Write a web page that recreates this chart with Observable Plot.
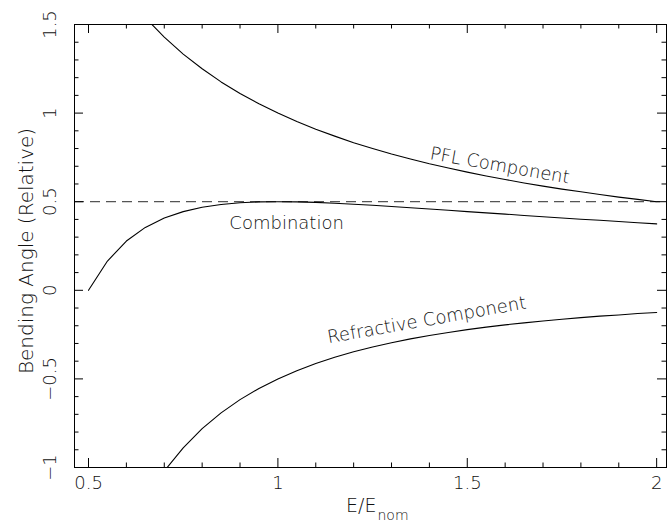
<!DOCTYPE html>
<html>
<head>
<meta charset="utf-8">
<script src="https://cdn.jsdelivr.net/npm/d3@7"></script>
<script src="https://cdn.jsdelivr.net/npm/@observablehq/plot@0.6"></script>
<style>
  html, body { margin: 0; padding: 0; background: #fff; }
  #chart svg { display: block; }
</style>
</head>
<body>
<div id="chart"></div>
<script>
// ---- data ----
const energy = [0.50, 0.55, 0.60, 0.65, 0.70, 0.75, 0.80, 0.85, 0.90, 0.95,
                1.00, 1.05, 1.10, 1.15, 1.20, 1.25, 1.30, 1.35, 1.40, 1.45,
                1.50, 1.55, 1.60, 1.65, 1.70, 1.75, 1.80, 1.85, 1.90, 1.95, 2.00];
const combination = [0.000, 0.165, 0.278, 0.355, 0.408, 0.444, 0.469, 0.484, 0.494, 0.499,
                     0.500, 0.499, 0.496, 0.491, 0.486, 0.480, 0.473, 0.466, 0.459, 0.452,
                     0.444, 0.437, 0.430, 0.422, 0.415, 0.408, 0.401, 0.395, 0.388, 0.381, 0.375];
const pflComponent = [null, null, null, 1.538, 1.429, 1.333, 1.250, 1.176, 1.111, 1.053,
                      1.000, 0.952, 0.909, 0.870, 0.833, 0.800, 0.769, 0.741, 0.714, 0.690,
                      0.667, 0.645, 0.625, 0.606, 0.588, 0.571, 0.556, 0.541, 0.526, 0.513, 0.500];
const refractiveComponent = [null, null, null, null, -1.020, -0.889, -0.781, -0.692, -0.617, -0.554,
                      -0.500, -0.454, -0.413, -0.378, -0.347, -0.320, -0.296, -0.274, -0.255, -0.238,
                      -0.222, -0.208, -0.195, -0.184, -0.173, -0.163, -0.154, -0.146, -0.139, -0.131, -0.125];
const referenceLevel = [0.5];

const xMajorTicks = [0.5, 1, 1.5, 2];
const xMinorTicks = [0.6, 0.7, 0.8, 0.9, 1.1, 1.2, 1.3, 1.4, 1.6, 1.7, 1.8, 1.9];
const yMajorTicks = [-1, -0.5, 0, 0.5, 1, 1.5];
const yMinorTicks = [-0.9, -0.8, -0.7, -0.6, -0.4, -0.3, -0.2, -0.1, 0.1, 0.2, 0.3, 0.4,
                     0.6, 0.7, 0.8, 0.9, 1.1, 1.2, 1.3, 1.4];
const xTickLabels = ["0.5", "1", "1.5", "2"];
const yTickLabels = ["\u22121", "\u22120.5", "0", "0.5", "1", "1.5"];

const annotations = [
  {text: "PFL Component", e: 1.586, v: 0.704, angle: 10},
  {text: "Combination", e: 1.023, v: 0.377, angle: 0},
  {text: "Refractive Component", e: 1.393, v: -0.168, angle: -10}
];
const xTitle = "E/E";
const xTitleSub = "nom";
const yTitle = "Bending Angle (Relative)";

// ---- build table ----
const series = [
  {name: "Combination", values: combination},
  {name: "PFL", values: pflComponent},
  {name: "Refractive", values: refractiveComponent}
];
const rows = [];
for (const s of series) {
  energy.forEach((e, i) => {
    if (s.values[i] !== null) rows.push({series: s.name, e, v: s.values[i]});
  });
}

// ---- layout ----
const W = 667, H = 524;
const mL = 74, mR = 1, mT = 24, mB = 57;
const innerW = W - mL - mR, innerH = H - mT - mB;
const majorLen = 9, minorLen = 4.5;
const font = "DejaVu Sans";
const weight = 300;
const ink = "#111";

const chart = Plot.plot({
  width: W,
  height: H,
  marginLeft: mL,
  marginRight: mR,
  marginTop: mT,
  marginBottom: mB,
  x: {domain: [0.463, 2.026], axis: null},
  y: {domain: [-1, 1.5], axis: null},
  style: {fontFamily: font, fontSize: "18px", background: "white", color: "black"},
  marks: [
    Plot.ruleY(referenceLevel, {stroke: "#555", strokeWidth: 1.3, strokeDasharray: "10,6"}),
    Plot.line(rows, {x: "e", y: "v", z: "series", stroke: "black", strokeWidth: 1.1, clip: true}),
    Plot.frame({stroke: "black", strokeWidth: 1}),
    // ticks (pointing inward, on all four sides)
    Plot.tickX(xMajorTicks, {x: d => d, insetTop: innerH - majorLen, stroke: "black"}),
    Plot.tickX(xMajorTicks, {x: d => d, insetBottom: innerH - majorLen, stroke: "black"}),
    Plot.tickX(xMinorTicks, {x: d => d, insetTop: innerH - minorLen, stroke: "black"}),
    Plot.tickX(xMinorTicks, {x: d => d, insetBottom: innerH - minorLen, stroke: "black"}),
    Plot.tickY(yMajorTicks, {y: d => d, insetRight: innerW - majorLen, stroke: "black"}),
    Plot.tickY(yMajorTicks, {y: d => d, insetLeft: innerW - majorLen, stroke: "black"}),
    Plot.tickY(yMinorTicks, {y: d => d, insetRight: innerW - minorLen, stroke: "black"}),
    Plot.tickY(yMinorTicks, {y: d => d, insetLeft: innerW - minorLen, stroke: "black"}),
    // tick labels
    Plot.text(xMajorTicks, {x: d => d, text: (d, i) => xTickLabels[i], frameAnchor: "bottom",
      dy: 21, fontSize: 18, fontWeight: weight, fill: ink}),
    Plot.text(yMajorTicks, {y: d => d, text: (d, i) => yTickLabels[i], frameAnchor: "left",
      textAnchor: "middle", dx: -24, rotate: -90, fontSize: 18, fontWeight: weight, fill: ink}),
    // axis titles
    Plot.text([xTitle], {text: d => d, frameAnchor: "bottom", dx: 6, dy: 44,
      textAnchor: "end", fontSize: 19, fontWeight: weight, fill: ink}),
    Plot.text([xTitleSub], {text: d => d, frameAnchor: "bottom", dx: 7, dy: 52,
      textAnchor: "start", fontSize: 14, fontWeight: weight, fill: ink}),
    Plot.text([yTitle], {text: d => d, frameAnchor: "left", textAnchor: "middle", dx: -48, dy: 5,
      rotate: -90, fontSize: 20, fontWeight: weight, fill: ink}),
    // curve annotations
    Plot.text(annotations, {x: "e", y: "v", text: "text", rotate: "angle",
      fontSize: 18, fontWeight: weight, fill: ink})
  ]
});

document.getElementById("chart").appendChild(chart);
</script>
</body>
</html>
